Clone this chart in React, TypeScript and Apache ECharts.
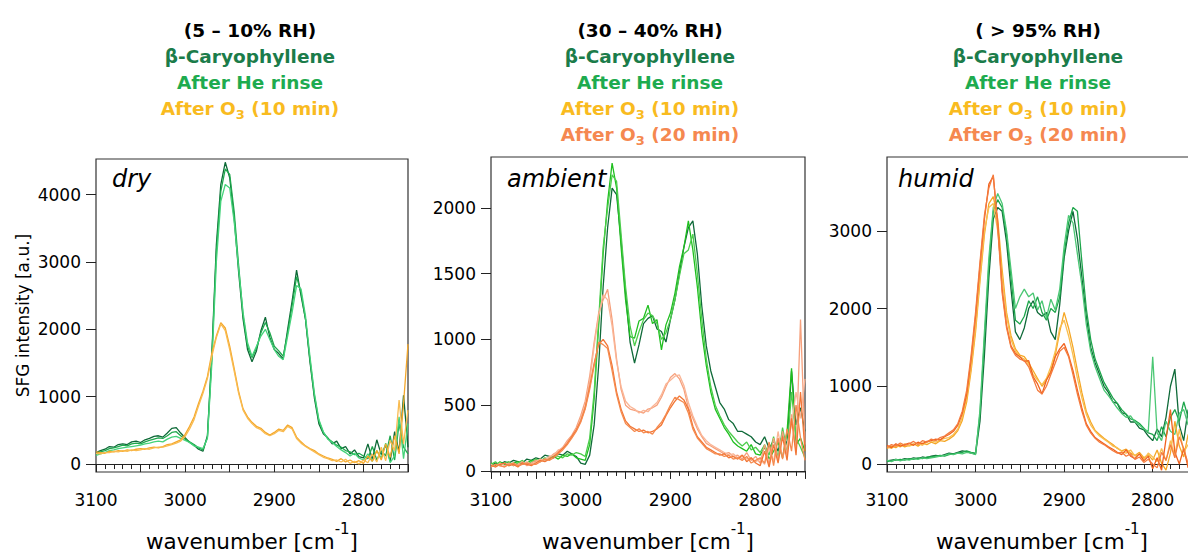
import React, { useEffect, useRef } from "react";
import * as echarts from "echarts";

const wavenumbers = [
  3100, 3095, 3090, 3085, 3080, 3075, 3070, 3065, 3060, 3055,
  3050, 3045, 3040, 3035, 3030, 3025, 3020, 3015, 3010, 3005,
  3000, 2995, 2990, 2985, 2980, 2975, 2970, 2965, 2960, 2955,
  2950, 2945, 2940, 2935, 2930, 2925, 2920, 2915, 2910, 2905,
  2900, 2895, 2890, 2885, 2880, 2875, 2870, 2865, 2860, 2855,
  2850, 2845, 2840, 2835, 2830, 2825, 2820, 2815, 2810, 2805,
  2800, 2795, 2790, 2785, 2780, 2775, 2770, 2765, 2760, 2755,
  2750,
];

const xTickLabels = [3100, 3000, 2900, 2800];
const dryYTicks = [0, 1000, 2000, 3000, 4000];
const ambientYTicks = [0, 500, 1000, 1500, 2000];
const humidYTicks = [0, 1000, 2000, 3000];

// ---- dry (5 - 10% RH) ----
const dryCaryophyllene = [
  170, 200, 220, 260, 250, 290, 300, 290, 330, 340,
  320, 360, 380, 410, 420, 400, 460, 530, 540, 460,
  390, 320, 280, 220, 190, 420, 1650, 3250, 4150, 4480,
  4250, 3650, 2850, 2150, 1700, 1520, 1680, 1980, 2180, 1880,
  1700, 1640, 1560, 2000, 2420, 2880, 2500, 2150, 1520, 980,
  600, 450, 390, 300, 340, 230, 260, 150, 210, 110,
  90, 300, 70, 360, 140, 280, 40, 480, 180, 1020,
  250,
];
const dryHeRinse = [
  150, 180, 200, 230, 240, 260, 280, 270, 300, 310,
  300, 330, 350, 370, 390, 380, 420, 470, 480, 420,
  370, 330, 290, 240, 210, 400, 1600, 3150, 4050, 4380,
  4300, 3750, 2950, 2200, 1750, 1580, 1720, 1950, 2100, 1950,
  1750, 1680, 1600, 1950, 2350, 2780, 2550, 2150, 1550, 1020,
  640, 470, 380, 330, 280, 250, 200, 180, 140, 160,
  120, 80, 260, 60, 200, 120, 420, 60, 600, 250,
  150,
];
const dryHeRinse2 = [
  130, 150, 170, 200, 210, 230, 240, 250, 260, 270,
  280, 300, 310, 330, 340, 330, 370, 400, 410, 380,
  350, 320, 270, 250, 230, 380, 1500, 3000, 3900, 4150,
  4100, 3600, 2900, 2250, 1800, 1600, 1750, 1900, 2000, 1850,
  1700, 1600, 1550, 1900, 2250, 2650, 2600, 2200, 1600, 1050,
  660, 480, 370, 320, 260, 210, 170, 120, 160, 90,
  60, 150, 40, 200, 90, 310, 20, 120, 700, 80,
  600,
];
const dryO3a = [
  180, 170, 160, 190, 180, 200, 190, 210, 200, 220,
  230, 220, 240, 250, 240, 260, 290, 300, 330, 360,
  440, 560, 700, 900, 1080, 1300, 1650, 1900, 2100, 2020,
  1750, 1420, 1080, 820, 700, 620, 560, 530, 470, 430,
  470, 520, 500, 580, 540, 400, 330, 270, 230, 200,
  150, 120, 90, 70, 40, 80, 30, 60, 20, 50,
  10, 120, 40, 200, 60, 300, 100, 420, 150, 900,
  1780,
];
const dryO3b = [
  160, 150, 170, 170, 190, 180, 200, 190, 210, 200,
  210, 230, 220, 240, 250, 250, 270, 290, 310, 340,
  410, 520, 660, 860, 1050, 1270, 1600, 1880, 2080, 1980,
  1700, 1380, 1050, 800, 680, 600, 540, 510, 450, 420,
  450, 500, 480, 560, 520, 380, 310, 260, 220, 180,
  140, 100, 80, 50, 60, 30, 70, 10, 40, 0,
  60, 20, 150, 30, 250, 50, 350, 200, 950, 300,
  800,
];

// ---- ambient (30 - 40% RH) ----
const ambCaryophyllene = [
  40, 60, 50, 70, 60, 80, 70, 60, 90, 80,
  100, 90, 120, 110, 100, 130, 120, 150, 130, 110,
  60, 50, 120, 350, 800, 1400, 1850, 2150, 2100, 1750,
  1350, 980, 820, 960, 1120, 1160, 1180, 1080, 1060, 980,
  1150, 1300, 1500, 1700, 1850, 1900, 1650, 1250, 950, 760,
  640, 520, 470, 390, 360, 300, 300, 280, 260, 220,
  200, 260, 170, 230, 150, 280, 200, 760, 350, 480,
  300,
];
const ambHeRinse = [
  60, 40, 70, 50, 40, 60, 70, 50, 60, 80,
  70, 90, 80, 100, 110, 90, 120, 110, 130, 100,
  90, 80, 200, 550, 1100, 1650, 2050, 2340, 2150, 1700,
  1300, 1020, 1010, 1140, 1160, 1260, 1120, 1150, 920, 1110,
  1200, 1350, 1550, 1700, 1900, 1680, 1400, 1050, 800, 600,
  470, 400, 330, 280, 220, 190, 170, 150, 200, 130,
  120, 180, 90, 150, 220, 100, 300, 780, 200, 250,
  150,
];
const ambHeRinse2 = [
  50, 70, 40, 60, 70, 40, 60, 80, 50, 70,
  90, 70, 100, 90, 120, 110, 100, 130, 120, 140,
  130, 110, 250, 600, 1150, 1700, 2000, 2250, 2200, 1800,
  1400, 1100, 950, 1060, 1150, 1200, 1180, 1120, 1000, 1050,
  1150, 1300, 1480, 1650, 1680, 1800, 1500, 1150, 850, 640,
  500, 420, 350, 300, 260, 220, 190, 220, 160, 180,
  140, 200, 120, 260, 100, 330, 150, 600, 250, 180,
  100,
];
const ambO3a = [
  30, 50, 40, 30, 60, 40, 50, 70, 40, 60,
  80, 70, 90, 100, 130, 150, 180, 230, 270, 330,
  420, 530, 720, 980, 1200, 1300, 1380, 1150, 850, 620,
  500, 470, 460, 450, 440, 470, 480, 500, 560, 640,
  710, 740, 700, 620, 480, 400, 320, 260, 210, 190,
  170, 150, 130, 140, 110, 120, 90, 140, 80, 110,
  60, 200, 50, 250, 80, 300, 120, 430, 150, 1150,
  200,
];
const ambO3a2 = [
  50, 30, 60, 40, 50, 60, 40, 50, 70, 50,
  70, 90, 80, 110, 120, 160, 170, 220, 250, 310,
  400, 500, 680, 950, 1180, 1340, 1300, 1100, 830, 640,
  530, 490, 470, 440, 460, 450, 490, 520, 580, 660,
  690, 720, 730, 650, 520, 420, 340, 270, 230, 200,
  180, 160, 140, 120, 130, 100, 120, 90, 100, 70,
  90, 50, 180, 70, 300, 100, 200, 350, 600, 400,
  700,
];
const ambO3b = [
  40, 30, 50, 60, 40, 50, 30, 60, 50, 40,
  60, 80, 70, 90, 110, 140, 170, 210, 260, 310,
  380, 480, 640, 820, 960, 1000, 950, 800, 600, 470,
  380, 340, 320, 300, 310, 290, 300, 320, 350, 420,
  480, 530, 570, 540, 470, 340, 260, 220, 180, 160,
  140, 120, 130, 100, 110, 90, 120, 70, 100, 60,
  40, 150, 30, 200, 60, 260, 80, 400, 120, 600,
  150,
];
const ambO3b2 = [
  30, 50, 40, 30, 50, 60, 40, 50, 60, 50,
  50, 70, 90, 80, 100, 130, 160, 200, 250, 300,
  370, 470, 620, 800, 980, 960, 930, 760, 580, 450,
  360, 330, 300, 320, 290, 300, 280, 330, 370, 430,
  500, 560, 540, 520, 440, 320, 250, 210, 170, 150,
  130, 130, 110, 120, 90, 100, 80, 110, 60, 80,
  100, 60, 220, 40, 250, 90, 320, 150, 500, 250,
  80,
];

// ---- humid (> 95% RH) ----
const humCaryophyllene = [
  40, 50, 60, 50, 70, 60, 80, 70, 90, 80,
  100, 110, 100, 120, 140, 130, 150, 170, 160, 140,
  130, 550, 1400, 2400, 3150, 3300, 3250, 2850, 2250, 1700,
  1600, 1750, 2000, 2100, 1950, 1900, 1950, 1700, 1600, 2050,
  2650, 3000, 3250, 2900, 2400, 1900, 1500, 1300, 1150, 1000,
  920, 800, 780, 660, 640, 540, 540, 460, 440, 360,
  300, 450, 350, 600, 1000, 1220, 500, 300, 700, 400,
  250,
];
const humHeRinse = [
  30, 40, 50, 60, 50, 70, 60, 80, 70, 90,
  90, 100, 110, 100, 120, 130, 140, 150, 170, 150,
  140, 650, 1600, 2550, 3250, 3400, 3300, 2950, 2400, 1850,
  1800, 1900, 2100, 2000, 2150, 1950, 1850, 2000, 1950, 2150,
  2700, 3100, 3300, 3250, 2600, 2000, 1600, 1350, 1200, 1050,
  950, 850, 780, 700, 640, 580, 560, 520, 460, 400,
  380, 300, 480, 350, 600, 700, 550, 800, 600, 500,
  400,
];
const humHeRinse2 = [
  50, 30, 60, 40, 60, 50, 70, 60, 80, 70,
  80, 90, 100, 110, 130, 120, 140, 130, 150, 140,
  120, 700, 1700, 2650, 3300, 3480, 3350, 3000, 2500, 2000,
  2150, 2250, 2150, 2200, 1980, 2100, 1880, 2120, 1980, 2250,
  2800, 3200, 3100, 2700, 2300, 1800, 1450, 1250, 1100, 950,
  880, 800, 720, 650, 600, 620, 540, 500, 450, 420,
  1380, 400, 300, 550, 420, 380, 650, 700, 500, 600,
  500,
];
const humO3a = [
  200, 230, 210, 250, 220, 240, 260, 230, 270, 250,
  280, 260, 300, 290, 320, 360, 430, 560, 800, 1200,
  1700, 2350, 2950, 3350, 3440, 3150, 2500, 1950, 1650, 1480,
  1400, 1380, 1300, 1200, 1100, 1000, 1080, 1200, 1400, 1700,
  1950, 1750, 1500, 1200, 920, 680, 540, 430, 380, 330,
  290, 250, 200, 170, 190, 140, 110, 150, 80, 120,
  50, 180, 10, -80, 140, 550, 230, 90, 380, 200,
  300,
];
const humO3a2 = [
  220, 200, 240, 220, 260, 230, 250, 270, 240, 280,
  300, 280, 310, 330, 340, 380, 450, 600, 850, 1250,
  1750, 2400, 3000, 3300, 3350, 3000, 2400, 1900, 1600, 1450,
  1380, 1350, 1280, 1150, 1080, 1020, 1100, 1250, 1450, 1750,
  1850, 1650, 1400, 1100, 850, 640, 500, 420, 360, 320,
  280, 230, 210, 160, 140, 180, 100, 130, 60, 140,
  90, 30, 200, 40, 300, 100, 450, 150, 250, 50,
  200,
];
const humO3b = [
  240, 210, 260, 230, 250, 270, 240, 280, 260, 290,
  300, 320, 310, 350, 380, 420, 500, 650, 900, 1350,
  1900, 2550, 3150, 3600, 3700, 3100, 2250, 1780, 1520, 1420,
  1380, 1320, 1330, 1120, 1030, 900, 1080, 1180, 1380, 1480,
  1550, 1400, 1200, 950, 720, 520, 420, 340, 300, 260,
  220, 190, 150, 120, 180, 100, 70, 130, 40, 100,
  -60, 80, -80, 320, 700, 150, 0, 200, -50, 100,
  0,
];
const humO3b2 = [
  210, 250, 230, 270, 240, 260, 290, 250, 300, 280,
  320, 300, 340, 360, 400, 440, 520, 680, 950, 1400,
  1950, 2600, 3200, 3550, 3720, 3050, 2200, 1750, 1500, 1400,
  1350, 1330, 1250, 1100, 950, 900, 1000, 1150, 1300, 1450,
  1500, 1380, 1150, 900, 680, 500, 400, 330, 280, 250,
  210, 170, 140, 150, 100, 130, 60, 90, 20, 60,
  0, -50, 150, 50, 250, 80, 350, 200, 0, 150,
  50,
];

const FONT = "DejaVu Sans";
const AXIS_COLOR = "#222";

type Trace = { name: string; values: number[]; color: string };

const panels = [
  {
    grid: { left: 96, top: 159, width: 312, height: 316 },
    yMin: -118,
    yMax: 4529,
    yTicks: dryYTicks,
    yName: "SFG intensity [a.u.]",
    label: "dry",
    labelX: 112,
    titleX: 250,
    titleLines: ["(5 – 10% RH)"],
    o20: false,
    traces: [
      { name: "β-Caryophyllene", values: dryCaryophyllene, color: "#0d6a37" },
      { name: "After He rinse", values: dryHeRinse, color: "#1fa84d" },
      { name: "After He rinse (2)", values: dryHeRinse2, color: "#45d37a" },
      { name: "After O3 (10 min)", values: dryO3a, color: "#f4a72a" },
      { name: "After O3 (10 min) (2)", values: dryO3b, color: "#f9bb50" },
    ] as Trace[],
  },
  {
    grid: { left: 491, top: 157, width: 314, height: 316 },
    yMin: -8,
    yMax: 2386,
    yTicks: ambientYTicks,
    yName: "",
    label: "ambient",
    labelX: 507,
    titleX: 650,
    titleLines: ["(30 – 40% RH)"],
    o20: true,
    traces: [
      { name: "β-Caryophyllene", values: ambCaryophyllene, color: "#0f6a39" },
      { name: "After He rinse", values: ambHeRinse, color: "#1fbf1f" },
      { name: "After He rinse (2)", values: ambHeRinse2, color: "#4ccd4c" },
      { name: "After O3 (10 min)", values: ambO3a, color: "#f6a07c" },
      { name: "After O3 (10 min) (2)", values: ambO3a2, color: "#fab596" },
      { name: "After O3 (20 min)", values: ambO3b, color: "#f27636" },
      { name: "After O3 (20 min) (2)", values: ambO3b2, color: "#f58a4e" },
    ] as Trace[],
  },
  {
    grid: { left: 887, top: 157, width: 312, height: 316 },
    yMin: -103,
    yMax: 3949,
    yTicks: humidYTicks,
    yName: "",
    label: "humid",
    labelX: 898,
    titleX: 1038,
    titleLines: ["( > 95% RH)"],
    o20: true,
    traces: [
      { name: "β-Caryophyllene", values: humCaryophyllene, color: "#0f6a39" },
      { name: "After He rinse", values: humHeRinse, color: "#1da64b" },
      { name: "After He rinse (2)", values: humHeRinse2, color: "#4bc774" },
      { name: "After O3 (10 min)", values: humO3a, color: "#f5a726" },
      { name: "After O3 (10 min) (2)", values: humO3a2, color: "#f9be4f" },
      { name: "After O3 (20 min)", values: humO3b, color: "#f0621f" },
      { name: "After O3 (20 min) (2)", values: humO3b2, color: "#f47b3e" },
    ] as Trace[],
  },
];

const head = (fill: string, extra: Record<string, unknown> = {}) => ({
  fill,
  fontFamily: FONT,
  fontWeight: "bold",
  fontSize: 18.5,
  lineHeight: 26,
  ...extra,
});

const headRich = {
  k: head("#000000"),
  c: head("#1b7c4a"),
  g: head("#1eab4f"),
  y: head("#f9bb1f"),
  ys: head("#f9bb1f", { fontSize: 13, lineHeight: 14, verticalAlign: "bottom" }),
  o: head("#f58850"),
  os: head("#f58850", { fontSize: 13, lineHeight: 14, verticalAlign: "bottom" }),
};

export default function App() {
  const ref = useRef<HTMLDivElement>(null);

  useEffect(() => {
    if (!ref.current) return;
    const chart = echarts.init(ref.current, undefined, { renderer: "svg" });

    const grids: any[] = [];
    const xAxes: any[] = [];
    const yAxes: any[] = [];
    const series: any[] = [];
    const graphics: any[] = [];

    panels.forEach((p, idx) => {
      grids.push({
        ...p.grid,
        show: true,
        borderColor: "#333",
        borderWidth: 1.2,
        backgroundColor: "transparent",
        containLabel: false,
      });
      xAxes.push({
        type: "value",
        gridIndex: idx,
        min: 2750,
        max: 3100,
        interval: 50,
        inverse: true,
        offset: 3,
        axisLine: { show: true, lineStyle: { color: AXIS_COLOR, width: 1 } },
        axisTick: { show: true, length: 8, lineStyle: { color: AXIS_COLOR, width: 1 } },
        minorTick: { show: true, splitNumber: 5, length: 5, lineStyle: { color: AXIS_COLOR, width: 1 } },
        splitLine: { show: false },
        minorSplitLine: { show: false },
        axisLabel: {
          formatter: (v: number) => (xTickLabels.indexOf(v) >= 0 ? String(v) : ""),
          fontFamily: FONT,
          fontSize: 17,
          color: "#000",
          margin: 16,
          showMinLabel: true,
          showMaxLabel: true,
        },
        name: "{a|wavenumber [cm}{s|-1}{a|]}",
        nameLocation: "middle",
        nameGap: 46,
        nameTextStyle: {
          rich: {
            a: { fontFamily: FONT, fontSize: 21.5, lineHeight: 40, color: "#000" },
            s: { fontFamily: FONT, fontSize: 15, lineHeight: 12, color: "#000", verticalAlign: "top" },
          },
        },
      });
      yAxes.push({
        type: "value",
        gridIndex: idx,
        min: p.yMin,
        max: p.yMax,
        axisLine: { show: false },
        axisTick: {
          show: true,
          length: 10,
          customValues: p.yTicks,
          lineStyle: { color: AXIS_COLOR, width: 1 },
        },
        splitLine: { show: false },
        axisLabel: {
          customValues: p.yTicks,
          formatter: (v: number) => String(v),
          showMinLabel: true,
          showMaxLabel: true,
          fontFamily: FONT,
          fontSize: 17,
          color: "#000",
          margin: 15,
        },
        name: p.yName,
        nameLocation: "middle",
        nameGap: 65,
        nameTextStyle: { fontFamily: FONT, fontSize: 17, color: "#000" },
      });
      p.traces.forEach((t) => {
        series.push({
          type: "line",
          name: t.name,
          xAxisIndex: idx,
          yAxisIndex: idx,
          data: wavenumbers.map((w, i) => [w, t.values[i]]),
          showSymbol: false,
          symbol: "none",
          clip: true,
          silent: true,
          lineStyle: { color: t.color, width: 1.3 },
          itemStyle: { color: t.color },
        });
      });

      const lines = [
        `{k|${p.titleLines[0]}}`,
        "{c|β-Caryophyllene}",
        "{g|After He rinse}",
        "{y|After O}{ys|3}{y| (10 min)}",
      ];
      if (p.o20) lines.push("{o|After O}{os|3}{o| (20 min)}");
      graphics.push({
        type: "text",
        x: p.titleX,
        y: 17,
        style: {
          text: lines.join("\n"),
          align: "center",
          verticalAlign: "top",
          rich: headRich,
        },
      });
      graphics.push({
        type: "text",
        x: p.labelX,
        y: 179,
        z: 10,
        style: {
          text: p.label,
          fontFamily: FONT,
          fontStyle: "italic",
          fontSize: 24,
          fill: "#000",
          align: "left",
          verticalAlign: "middle",
        },
      });
    });

    chart.setOption({
      animation: false,
      backgroundColor: "#ffffff",
      grid: grids,
      xAxis: xAxes,
      yAxis: yAxes,
      series,
      graphic: graphics,
    });

    return () => chart.dispose();
  }, []);

  return (
    <div
      style={{
        position: "fixed",
        left: 0,
        top: 0,
        width: 1188,
        height: 557,
        overflow: "hidden",
        background: "#fff",
      }}
    >
      <div ref={ref} style={{ width: 1200, height: 557 }} />
    </div>
  );
}
